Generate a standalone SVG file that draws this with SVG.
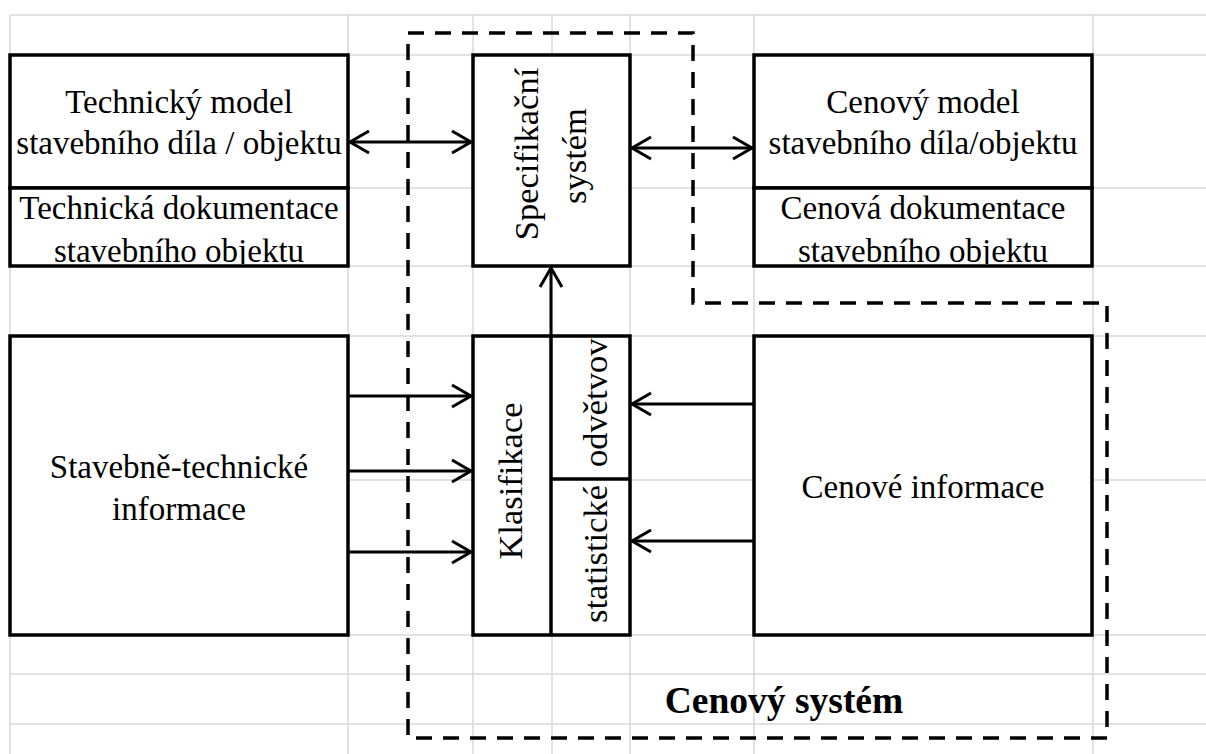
<svg xmlns="http://www.w3.org/2000/svg" width="1206" height="754" viewBox="0 0 1206 754">
<style>
.grid line{stroke:#d9d9d9;stroke-width:1.5}
.box{fill:#fff;stroke:#000;stroke-width:3.5}
.div{stroke:#000;stroke-width:3.5}
.conn{stroke:#000;stroke-width:3;fill:none}
.dash{stroke:#000;stroke-width:3.5;fill:none;stroke-dasharray:16 11}
</style>
<defs>
<marker id="ah" markerWidth="26" markerHeight="28" refX="21" refY="13" orient="auto-start-reverse" markerUnits="userSpaceOnUse" overflow="visible">
<path d="M2,2 L21,13 L2,24" fill="none" stroke="#000" stroke-width="3"/>
</marker>
<clipPath id="cTD"><rect x="10" y="190" width="338" height="74"/></clipPath>
<clipPath id="cCD"><rect x="754" y="190" width="338" height="74"/></clipPath>
<clipPath id="cOD"><rect x="552" y="338" width="78" height="140"/></clipPath>
</defs>
<rect width="1206" height="754" fill="#fff"/>
<g class="grid" id="grid">
<line x1="10" y1="15" x2="10" y2="754"/>
<line x1="348" y1="15" x2="348" y2="754"/>
<line x1="473" y1="15" x2="473" y2="754"/>
<line x1="552" y1="15" x2="552" y2="754"/>
<line x1="630" y1="15" x2="630" y2="754"/>
<line x1="754" y1="15" x2="754" y2="754"/>
<line x1="1093" y1="15" x2="1093" y2="754"/>
<line x1="10" y1="15" x2="1206" y2="15"/>
<line x1="10" y1="55" x2="1206" y2="55"/>
<line x1="10" y1="188" x2="1206" y2="188"/>
<line x1="10" y1="266" x2="1206" y2="266"/>
<line x1="10" y1="336" x2="1206" y2="336"/>
<line x1="10" y1="480" x2="1206" y2="480"/>
<line x1="10" y1="635" x2="1206" y2="635"/>
<line x1="10" y1="674" x2="1206" y2="674"/>
<line x1="10" y1="724" x2="1206" y2="724"/>
</g>
<g id="cenovy-system">
<path class="dash" d="M408,33 H693 V303 H1107 V738 H408 Z"/>
<text x="784" y="713" font-family="Liberation Serif, Times New Roman, serif" font-size="37.5" font-weight="bold" text-anchor="middle" fill="#000">Cenový systém</text>
</g>
<g id="technicky-model" font-family="Liberation Serif, Times New Roman, serif" font-size="33" text-anchor="middle" fill="#000">
<rect class="box" x="10" y="55" width="338" height="133"/>
<text x="179" y="113">Technický model</text>
<text x="179" y="154">stavebního díla / objektu</text>
</g>
<g id="technicka-dokumentace" font-family="Liberation Serif, Times New Roman, serif" font-size="33" text-anchor="middle" fill="#000">
<rect class="box" x="10" y="188" width="338" height="78"/>
<g clip-path="url(#cTD)">
<text x="179" y="219">Technická dokumentace</text>
<text x="179" y="262">stavebního objektu</text>
</g>
</g>
<g id="specifikacni-system" font-family="Liberation Serif, Times New Roman, serif" font-size="34.5" text-anchor="middle" fill="#000">
<rect class="box" x="473" y="55" width="157" height="211"/>
<text transform="translate(538,154) rotate(-90)">Specifikační</text>
<text transform="translate(586,156) rotate(-90)">systém</text>
</g>
<g id="cenovy-model" font-family="Liberation Serif, Times New Roman, serif" font-size="33" text-anchor="middle" fill="#000">
<rect class="box" x="754" y="55" width="338" height="133"/>
<text x="923" y="113">Cenový model</text>
<text x="923" y="154">stavebního díla/objektu</text>
</g>
<g id="cenova-dokumentace" font-family="Liberation Serif, Times New Roman, serif" font-size="33" text-anchor="middle" fill="#000">
<rect class="box" x="754" y="188" width="338" height="78"/>
<g clip-path="url(#cCD)">
<text x="923" y="219">Cenová dokumentace</text>
<text x="923" y="262">stavebního objektu</text>
</g>
</g>
<g id="stavebne-technicke-informace" font-family="Liberation Serif, Times New Roman, serif" font-size="33" text-anchor="middle" fill="#000">
<rect class="box" x="10" y="336" width="338" height="299"/>
<text x="179" y="478">Stavebně-technické</text>
<text x="179" y="520">informace</text>
</g>
<g id="klasifikace" font-family="Liberation Serif, Times New Roman, serif" font-size="34.5" fill="#000">
<rect class="box" x="473" y="336" width="157" height="299"/>
<line class="div" x1="551" y1="336" x2="551" y2="635"/>
<line class="div" x1="551" y1="479" x2="630" y2="479"/>
<text text-anchor="middle" transform="translate(522,481) rotate(-90)">Klasifikace</text>
<text transform="translate(607,623) rotate(-90)">statistické</text>
<g clip-path="url(#cOD)">
<text transform="translate(607,467) rotate(-90)">odvětvov</text>
</g>
</g>
<g id="cenove-informace" font-family="Liberation Serif, Times New Roman, serif" font-size="33" text-anchor="middle" fill="#000">
<rect class="box" x="754" y="336" width="338" height="299"/>
<text x="923" y="498">Cenové informace</text>
</g>
<g id="connectors">
<path class="conn" d="M350,142 H471" marker-start="url(#ah)" marker-end="url(#ah)"/>
<path class="conn" d="M632,148 H752" marker-start="url(#ah)" marker-end="url(#ah)"/>
<path class="conn" d="M551,336 V268" marker-end="url(#ah)"/>
<path class="conn" d="M348,396 H471" marker-end="url(#ah)"/>
<path class="conn" d="M348,471 H471" marker-end="url(#ah)"/>
<path class="conn" d="M348,552 H471" marker-end="url(#ah)"/>
<path class="conn" d="M754,404 H632" marker-end="url(#ah)"/>
<path class="conn" d="M754,541 H632" marker-end="url(#ah)"/>
</g>
</svg>
